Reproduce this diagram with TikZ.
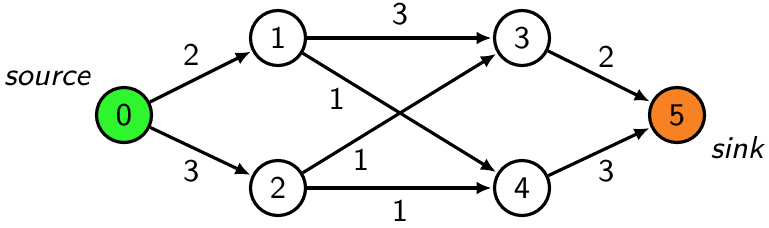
\documentclass[tikz,border=0pt]{standalone}
\usepackage{xcolor}
\definecolor{srcgreen}{RGB}{46,245,46}
\definecolor{sinkorange}{RGB}{247,130,35}
\usepackage{tikz}
\usetikzlibrary{arrows.meta}
\tikzset{
  vertex/.style={circle, draw=black, line width=0.9pt, fill=white, minimum size=0.55cm, inner sep=0pt, font=\small\sffamily},
  flow/.style={-{Latex[length=1.5mm,width=1.3mm]}, line width=0.9pt, shorten >=0.4pt},
  capacity/.style={font=\small\sffamily, inner sep=2pt}
}
\begin{document}
\begin{tikzpicture}
  \useasboundingbox (0,0) rectangle (7.69,2.27);

  % --- vertices ---
  \node[vertex, fill=srcgreen]   (v0) at (1.24,1.12) {0};
  \node[vertex]                  (v1) at (2.78,1.89) {1};
  \node[vertex]                  (v2) at (2.78,0.39) {2};
  \node[vertex]                  (v3) at (5.22,1.89) {3};
  \node[vertex]                  (v4) at (5.22,0.39) {4};
  \node[vertex, fill=sinkorange] (v5) at (6.77,1.12) {5};

  \node[font=\small\sffamily\itshape] (src) at (0.47,1.49) {source};
  \node[font=\small\sffamily\itshape] (snk) at (7.37,0.79) {sink};

  % --- edges with capacities ---
  \draw[flow] (v0) -- node[capacity, above left, xshift=0.07cm, yshift=0.02cm] {2} (v1);
  \draw[flow] (v0) -- node[capacity, below left, xshift=0.07cm] {3} (v2);
  \draw[flow] (v1) -- node[capacity, above, yshift=0.04cm] {3} (v3);
  \draw[flow] (v1) -- node[capacity, pos=0.22, below left, xshift=0.08cm] {1} (v4);
  \draw[flow] (v2) -- node[capacity, pos=0.3, below, yshift=-0.04cm] {1} (v3);
  \draw[flow] (v2) -- node[capacity, below, yshift=-0.03cm] {1} (v4);
  \draw[flow] (v3) -- node[capacity, above right, xshift=-0.1cm] {2} (v5);
  \draw[flow] (v4) -- node[capacity, below right, xshift=-0.1cm] {3} (v5);
\end{tikzpicture}
\end{document}
